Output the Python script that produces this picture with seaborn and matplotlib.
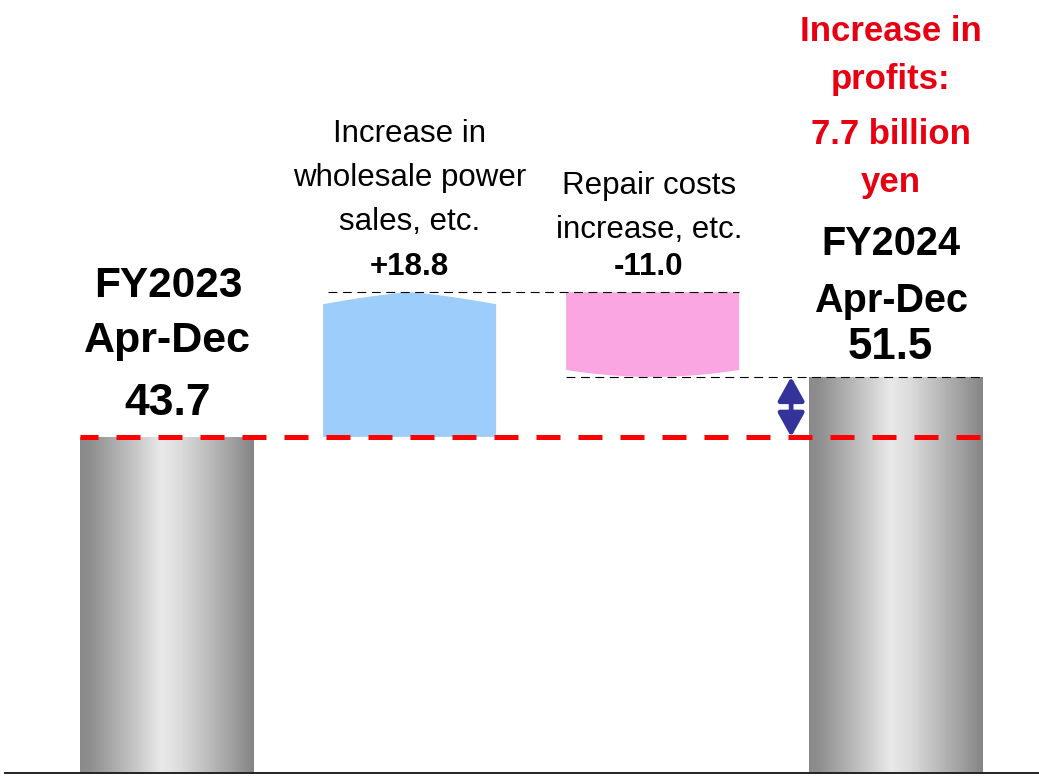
import numpy as np
import pandas as pd
import matplotlib
matplotlib.use("Agg")
import matplotlib.pyplot as plt
import seaborn as sns
from matplotlib import font_manager
from matplotlib.colors import LinearSegmentedColormap

# ---- data (billion yen) ----
categories = ["FY2023 Apr-Dec", "Wholesale power sales", "Repair costs", "FY2024 Apr-Dec"]
start_value = 43.7
step_values = [18.8, -11.0]
end_value = 51.5
profit_increase = 7.7

step_titles = ["Increase in\nwholesale power\nsales, etc.", "Repair costs\nincrease, etc."]
step_labels = ["+18.8", "-11.0"]

# ---- waterfall geometry from the data ----
level_after_up = start_value + step_values[0]
bottoms = [0.0, start_value, level_after_up + step_values[1], 0.0]
tops = [start_value, level_after_up, level_after_up, end_value]
heights = [t - b for t, b in zip(tops, bottoms)]

sns.set_theme(style="white")
avail = {f.name for f in font_manager.fontManager.ttflist}
FONT = ["Liberation Sans Narrow", "Liberation Sans", "DejaVu Sans"]
FONT = [f for f in FONT if f in avail] or ["DejaVu Sans"]
plt.rcParams["font.family"] = FONT

DPI = 100
fig = plt.figure(figsize=(10.39, 7.77), dpi=DPI)
ax = fig.add_axes([5 / 1039, 4 / 777, 1 - 5 / 1039, 773 / 777])

df = pd.DataFrame({"category": categories, "height": heights})
sns.barplot(data=df, x="category", y="height", width=0.712, ax=ax,
            color="#999999", saturation=1, edgecolor="none", linewidth=0)

ax.set_xlim(-0.665, 3.59)
ax.set_ylim(0, 100.5)

patches = list(ax.patches)
for p, b in zip(patches, bottoms):
    p.set_y(b)

# Cylinder-like shading for the two total bars
shade = LinearSegmentedColormap.from_list(
    "cyl",
    [(0.0, "#8a8a8a"), (0.06, "#8f8f8f"), (0.25, "#b8b8b8"),
     (0.47, "#e9e9e9"), (0.58, "#dcdcdc"), (0.85, "#a6a6a6"), (1.0, "#858585")])
grad = np.linspace(0, 1, 256).reshape(1, -1)
for idx in (0, 3):
    p = patches[idx]
    p.set_facecolor("none")
    x0, w = p.get_x(), p.get_width()
    im = ax.imshow(grad, cmap=shade, aspect="auto", interpolation="bicubic",
                   extent=(x0, x0 + w, p.get_y(), p.get_y() + p.get_height()),
                   zorder=1)
    im.set_clip_path(p)

# Floating step bars: arched top for the increase, curved bottom for the decrease
t = np.linspace(0, 1, 60)
p = patches[1]
p.set_visible(False)
x0, w = p.get_x(), p.get_width()
arch = 1.55 * (1 - np.abs(2 * t - 1) ** 1.3)
xs = np.concatenate([[x0, x0 + w], x0 + w - t * w])
ys = np.concatenate([[bottoms[1], bottoms[1]], tops[1] - 1.55 + arch[::-1]])
ax.fill(xs, ys, color="#9CCDFB", lw=0, zorder=2)

p = patches[2]
p.set_visible(False)
x0, w = p.get_x(), p.get_width()
sag = 0.9 * (1 - (2 * t - 1) ** 2)
xs = np.concatenate([x0 + t * w, [x0 + w, x0]])
ys = np.concatenate([bottoms[2] + 0.9 - sag, [tops[2], tops[2]]])
ax.fill(xs, ys, color="#F9A6E3", lw=0, zorder=2)

# Reference lines
x_left = patches[0].get_x()
x_right = patches[3].get_x() + patches[3].get_width()
ax.plot([x_left, x_right], [start_value, start_value], color="#FF0000",
        lw=3.6, linestyle=(1.2, (4.8, 3.6)), solid_capstyle="butt",
        dash_capstyle="butt", zorder=4)
thin = dict(color="black", lw=0.8, linestyle=(0, (8, 5)), zorder=4,
            dash_capstyle="butt")
ax.plot([patches[1].get_x() + 0.02, patches[2].get_x() + patches[2].get_width()],
        [level_after_up, level_after_up], **thin)
ax.plot([patches[2].get_x(), x_right], [end_value, end_value], **thin)

# Double arrow showing the change in profit
ax_x = patches[3].get_x() - 0.074
ax.annotate("", xy=(ax_x, end_value), xytext=(ax_x, end_value - profit_increase - 0.1),
            arrowprops=dict(arrowstyle="<|-|>,head_length=0.9,head_width=0.5",
                            mutation_scale=16, lw=3.4, color="#333399",
                            shrinkA=0, shrinkB=0), zorder=5)

def label(xc, y, offset_px, text, size, bold=True, color="black"):
    ax.annotate(text, xy=(xc, y), xytext=(0, offset_px * 72 / DPI),
                textcoords="offset points", ha="center", va="baseline",
                fontsize=size, fontweight="bold" if bold else "normal",
                color=color, zorder=6)

c0 = patches[0].get_x() + patches[0].get_width() / 2
c3 = patches[3].get_x() + patches[3].get_width() / 2
c1 = patches[1].get_x() + patches[1].get_width() / 2
c2 = patches[2].get_x() + patches[2].get_width() / 2

label(c0 + 0.005, start_value, 140, "FY2023", 30.5)
label(c0 + 0.005, start_value, 85, "Apr-Dec", 31)
label(c0 + 0.005, start_value, 22, f"{start_value:.1f}", 32)

label(c3 - 0.02, end_value, 122, "FY2024", 28.5)
label(c3 - 0.02, end_value, 65, "Apr-Dec", 28.5)
label(c3 - 0.02, end_value, 18, f"{end_value:.1f}", 31.5)

red = "#E60012"
label(c3 - 0.02, end_value, 336, "Increase in", 25)
label(c3 - 0.02, end_value, 288, "profits:", 25)
label(c3 - 0.02, end_value, 233, f"{profit_increase:.1f} billion", 25)
label(c3 - 0.02, end_value, 185, "yen", 25)
for txt in ax.texts[-4:]:
    txt.set_color(red)

for cx, title, val, pitch0 in ((c1, step_titles[0], step_labels[0], 150),
                               (c2 - 0.015, step_titles[1], step_labels[1], 98)):
    for k, line in enumerate(title.split("\n")):
        label(cx, level_after_up, pitch0 - 44 * k, line, 22.5, bold=False)
    label(cx, level_after_up, 17, val, 22.5)

ax.set_xlabel("")
ax.set_ylabel("")
ax.set_xticks([])
ax.set_yticks([])
for s in ("left", "right", "top"):
    ax.spines[s].set_visible(False)
ax.spines["bottom"].set_color("#222222")
ax.spines["bottom"].set_linewidth(1.4)
ax.spines["bottom"].set_zorder(7)
ax.set_facecolor("white")

fig.savefig("out.png", dpi=DPI, facecolor="white")
